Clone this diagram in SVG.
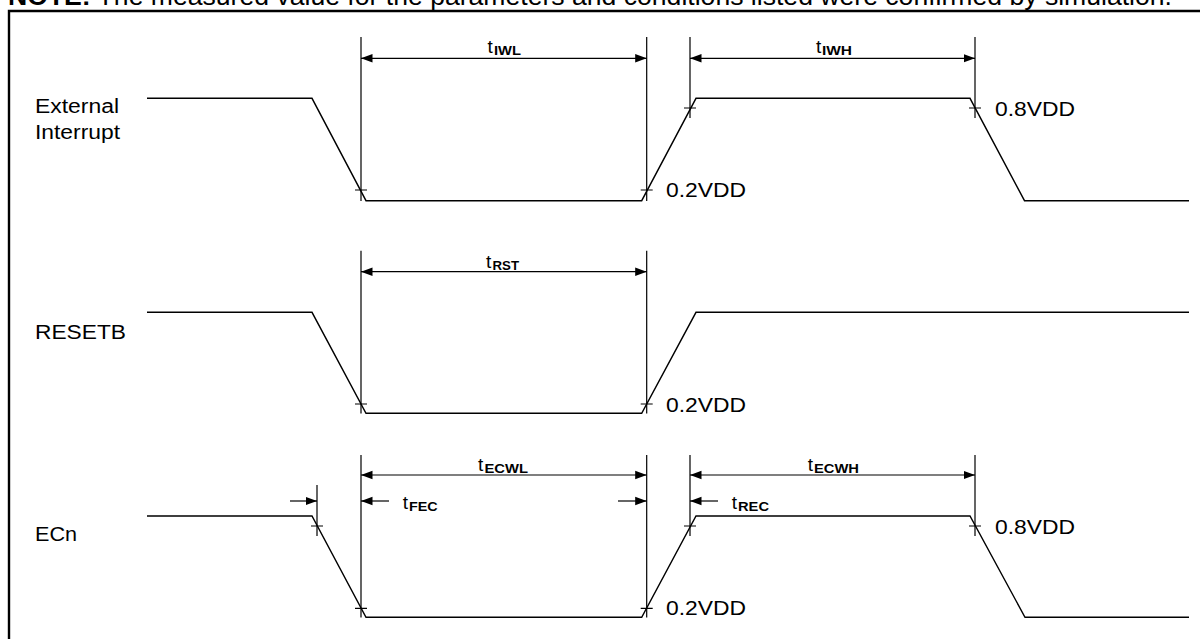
<svg xmlns="http://www.w3.org/2000/svg" width="1200" height="639" viewBox="0 0 1200 639">
<defs>
<style>
.sig{fill:none;stroke:#000;stroke-width:1.4;stroke-linejoin:miter}
.dim{fill:none;stroke:#000;stroke-width:1.2}
.frame{fill:none;stroke:#000;stroke-width:2.4}
.lbl{font-family:"Liberation Sans",Arial,sans-serif;font-size:19.5px;fill:#000}
.t{font-family:"Liberation Sans",Arial,sans-serif;font-size:19px;fill:#000}
.sub{font-family:"Liberation Sans",Arial,sans-serif;font-size:12.5px;font-weight:bold;fill:#000}
.title{font-family:"Liberation Sans",Arial,sans-serif;font-size:26.5px;fill:#000}
</style>
<marker id="ah" markerUnits="userSpaceOnUse" markerWidth="12" markerHeight="10" viewBox="0 0 12 10" refX="11.5" refY="5" orient="auto-start-reverse">
<path d="M0,0.8 L11.5,5 L0,9.2 z" fill="#000"/>
</marker>
</defs>
<rect width="1200" height="639" fill="#fff"/>
<text class="title" x="8" y="5" textLength="1164" lengthAdjust="spacingAndGlyphs"><tspan font-weight="bold">NOTE:</tspan> The measured value for the parameters and conditions listed were confirmed by simulation.</text>
<path class="frame" d="M9,639 V11 H1200"/>

<g id="ext-interrupt">
<text class="lbl" x="35" y="113.3" textLength="84" lengthAdjust="spacingAndGlyphs">External</text>
<text class="lbl" x="35" y="139" textLength="85" lengthAdjust="spacingAndGlyphs">Interrupt</text>
<path class="sig" d="M147,98.3 H312 L366,200.7 H641.7 L696,98.3 H970 L1024.5,200.7 H1189"/>
<text class="lbl" x="666" y="197" textLength="80" lengthAdjust="spacingAndGlyphs">0.2VDD</text>
<text class="lbl" x="995" y="116" textLength="80" lengthAdjust="spacingAndGlyphs">0.8VDD</text>
</g>

<g id="resetb">
<text class="lbl" x="35" y="339" textLength="91" lengthAdjust="spacingAndGlyphs">RESETB</text>
<path class="sig" d="M147,312.3 H312 L366,413.3 H641.7 L696,312.3 H1189"/>
<text class="lbl" x="666" y="411.5" textLength="80" lengthAdjust="spacingAndGlyphs">0.2VDD</text>
</g>

<g id="ecn">
<text class="lbl" x="35" y="541" textLength="42" lengthAdjust="spacingAndGlyphs">ECn</text>
<path class="sig" d="M147,516 H312 L366,617.3 H641.7 L696,516 H970 L1025,617.3 H1189"/>
<text class="lbl" x="666" y="615" textLength="80" lengthAdjust="spacingAndGlyphs">0.2VDD</text>
<text class="lbl" x="995" y="534" textLength="80" lengthAdjust="spacingAndGlyphs">0.8VDD</text>
</g>

<g id="connectors">
<!-- External interrupt dimension lines -->
<path class="dim" d="M361,37 V201 M646.7,37 V201 M690,37 V118 M975,37 V118"/>
<path class="dim" d="M355,190 H367 M640.7,190 H652.7 M684,108 H696 M969,108 H981"/>
<line class="dim" x1="361" y1="58.3" x2="646.7" y2="58.3" marker-start="url(#ah)" marker-end="url(#ah)"/>
<line class="dim" x1="690" y1="58.3" x2="975" y2="58.3" marker-start="url(#ah)" marker-end="url(#ah)"/>
<text class="t" x="487.5" y="53">t</text><text class="sub" x="494" y="54.5" textLength="27" lengthAdjust="spacingAndGlyphs">IWL</text>
<text class="t" x="816" y="53">t</text><text class="sub" x="822" y="54.5" textLength="30" lengthAdjust="spacingAndGlyphs">IWH</text>

<!-- RESETB dimension lines -->
<path class="dim" d="M361,250.7 V413.5 M646.7,250.7 V413.5"/>
<path class="dim" d="M355,404 H367 M640.7,404 H652.7"/>
<line class="dim" x1="361" y1="271.7" x2="646.7" y2="271.7" marker-start="url(#ah)" marker-end="url(#ah)"/>
<text class="t" x="486" y="268.3">t</text><text class="sub" x="492.5" y="269.5" textLength="26.5" lengthAdjust="spacingAndGlyphs">RST</text>

<!-- ECn dimension lines -->
<path class="dim" d="M317,485 V536 M361,455 V617.5 M646.7,455 V617.5 M690,455 V536 M975,455 V536"/>
<path class="dim" d="M311,526 H323 M355,608.3 H367 M640.7,608.3 H652.7 M684,526 H696 M969,526 H981"/>
<line class="dim" x1="361" y1="475" x2="646.7" y2="475" marker-start="url(#ah)" marker-end="url(#ah)"/>
<line class="dim" x1="690" y1="475" x2="975" y2="475" marker-start="url(#ah)" marker-end="url(#ah)"/>
<line class="dim" x1="290" y1="501" x2="317" y2="501" marker-end="url(#ah)"/>
<line class="dim" x1="389" y1="501" x2="361" y2="501" marker-end="url(#ah)"/>
<line class="dim" x1="618" y1="501" x2="646.7" y2="501" marker-end="url(#ah)"/>
<line class="dim" x1="718" y1="501" x2="690" y2="501" marker-end="url(#ah)"/>
<text class="t" x="478" y="470.7">t</text><text class="sub" x="484.5" y="472.5" textLength="43.5" lengthAdjust="spacingAndGlyphs">ECWL</text>
<text class="t" x="807.7" y="470.7">t</text><text class="sub" x="814" y="472.5" textLength="45" lengthAdjust="spacingAndGlyphs">ECWH</text>
<text class="t" x="402.7" y="509">t</text><text class="sub" x="409" y="511" textLength="28.7" lengthAdjust="spacingAndGlyphs">FEC</text>
<text class="t" x="731.7" y="509">t</text><text class="sub" x="738" y="511" textLength="31" lengthAdjust="spacingAndGlyphs">REC</text>
</g>
</svg>
